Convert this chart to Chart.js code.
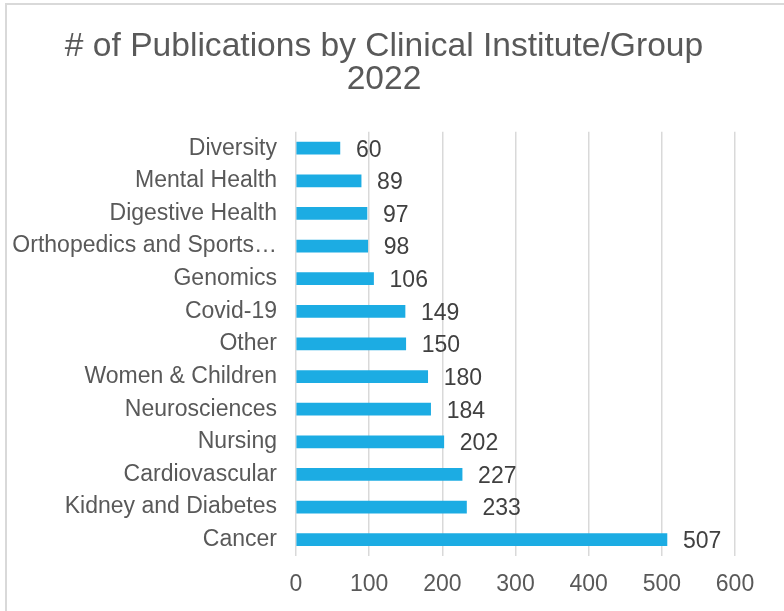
<!DOCTYPE html>
<html>
<head>
<meta charset="utf-8">
<script src="https://cdn.jsdelivr.net/npm/chart.js@4"></script>
<style>
    html, body { margin: 0; padding: 0; background: #fff; overflow: hidden; width: 784px; height: 611px; }
    #frame {
        position: absolute; left: 5px; top: 3px; width: 779px; height: 608px;
        border-top: 2px solid #d9d9d9; border-left: 2px solid #d9d9d9; box-sizing: border-box;
    }
    #wrap { position: absolute; left: 0; top: 0; width: 784px; height: 611px; }
</style>
</head>
<body>
<div id="frame"></div>
<div id="wrap"><canvas id="pubChart" width="784" height="611"></canvas></div>
<script>
// data
var groups = ['Diversity', 'Mental Health', 'Digestive Health', 'Orthopedics and Sports\u2026',
    'Genomics', 'Covid-19', 'Other', 'Women & Children', 'Neurosciences', 'Nursing',
    'Cardiovascular', 'Kidney and Diabetes', 'Cancer'];
var publications = [60, 89, 97, 98, 106, 149, 150, 180, 184, 202, 227, 233, 507];
var xTicks = [0, 100, 200, 300, 400, 500, 600];

var font = '"Liberation Sans", Arial, sans-serif';

// value labels at the bar ends
var barLabels = {
    id: 'barLabels',
    afterDatasetsDraw: function(chart) {
        var ctx = chart.ctx;
        var meta = chart.getDatasetMeta(0);
        ctx.save();
        ctx.font = '23px ' + font;
        ctx.fillStyle = '#404040';
        ctx.textAlign = 'left';
        ctx.textBaseline = 'middle';
        meta.data.forEach(function(bar, i) {
            ctx.fillText(publications[i], bar.x + 16, bar.y + 2);
        });
        ctx.restore();
    }
};

var ctx = document.getElementById('pubChart');
new Chart(ctx, {
    type: 'bar',
    data: {
        labels: groups,
        datasets: [{
            data: publications,
            backgroundColor: '#1cace3',
            barThickness: 12
        }]
    },
    options: {
        indexAxis: 'y',
        responsive: false,
        animation: false,
        layout: { padding: { left: 0, right: 16, top: 0, bottom: 0 } },
        plugins: {
            legend: { display: false },
            tooltip: { enabled: false },
            title: {
                display: true,
                text: ['# of Publications by Clinical Institute/Group', '2022'],
                color: '#595959',
                font: { family: font, size: 33.6, weight: 'normal', lineHeight: 0.98 },
                padding: { top: 30, bottom: 36 }
            }
        },
        scales: {
            x: {
                min: 0,
                max: 600,
                afterBuildTicks: function(axis) {
                    axis.ticks = xTicks.map(function(v) { return { value: v }; });
                },
                grid: { color: '#d9d9d9', lineWidth: 1.5, drawTicks: false },
                border: { display: false },
                ticks: { color: '#595959', font: { family: font, size: 23 }, padding: 15 },
                afterFit: function(axis) { axis.height = 55; }
            },
            y: {
                grid: { display: false, drawTicks: false },
                border: { display: false },
                ticks: { color: '#595959', font: { family: font, size: 23 }, padding: 19, autoSkip: false },
                afterFit: function(axis) { axis.width = 296; }
            },
            // empty axis on the right to keep the plot narrower than the title
            yRight: {
                type: 'category',
                position: 'right',
                grid: { display: false, drawTicks: false },
                border: { display: false },
                ticks: { display: false },
                afterFit: function(axis) { axis.width = 33; }
            }
        }
    },
    plugins: [barLabels]
});
</script>
</body>
</html>
